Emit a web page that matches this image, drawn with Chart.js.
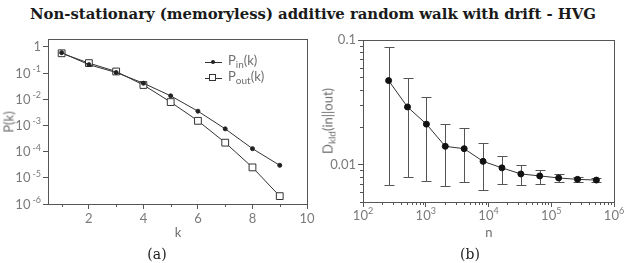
<!DOCTYPE html>
<html>
<head>
<meta charset="utf-8">
<script src="https://cdn.jsdelivr.net/npm/chart.js@4/dist/chart.umd.min.js"></script>
<style>
  body { margin: 0; background: #fff; width: 627px; height: 263px; position: relative; overflow: hidden; font-family: Lato, sans-serif; color: #6e6e6e; }
  canvas { position: absolute; top: 0; }
  #left { left: 0; }
  #right { left: 320px; }
  .t { position: absolute; white-space: nowrap; line-height: 1; }
  #title { top: 6px; left: 313px; font: bold 14px "DejaVu Serif", serif; color: #1a1a1a; transform-origin: 0 0; }
  .cap { font: 14px "DejaVu Serif", serif; color: #222; top: 246px; transform: translateX(-50%); }
  .ax { font-size: 13px; }
  .rot { transform: translate(-50%, -50%) rotate(-90deg); }
  .leg { font-size: 13px; }
  .leg sub { font-size: 10px; vertical-align: -3px; }
  .ax sub { font-size: 10px; vertical-align: -3px; }
  .ll { position: absolute; height: 1px; width: 17px; background: #333; }
  .dot { position: absolute; width: 4px; height: 4px; border-radius: 50%; background: #222; }
  .sq { position: absolute; width: 5px; height: 5px; border: 1px solid #333; background: #fff; }
</style>
</head>
<body>
<div id="title" class="t">Non-stationary (memoryless) additive random walk with drift - HVG</div>

<canvas id="left" width="320" height="263"></canvas>
<canvas id="right" width="307" height="263"></canvas>

<div class="t ax rot" style="left:9px;top:122px;">P(k)</div>
<div class="t ax" style="left:178px;top:226px;transform:translateX(-50%);">k</div>
<div class="t ax rot" style="left:329px;top:121px;">D<sub>kld</sub>(in||out)</div>
<div class="t ax" style="left:489px;top:226px;transform:translateX(-50%);">n</div>
<div class="t cap" style="left:157px;">(a)</div>
<div class="t cap" style="left:470px;">(b)</div>

<!-- legend -->
<div class="ll" style="left:205px;top:62px;"></div>
<div class="dot" style="left:211px;top:60px;"></div>
<div class="t leg" style="left:228px;top:54px;">P<sub>in</sub>(k)</div>
<div class="ll" style="left:205px;top:78px;"></div>
<div class="sq" style="left:209px;top:74px;"></div>
<div class="t leg" style="left:228px;top:70px;">P<sub>out</sub>(k)</div>

<script>
// ── Data ─────────────────────────────────────────────────────
const kVals = [1, 2, 3, 4, 5, 6, 7, 8, 9];
const pIn  = [0.6, 0.21, 0.105, 0.041, 0.0135, 0.0035, 7.4e-4, 1.3e-4, 3e-5];
const pOut = [0.57, 0.24, 0.115, 0.035, 0.0078, 0.0015, 2.2e-4, 2.5e-5, 2e-6];
const kTicks = [2, 4, 6, 8, 10];
const pTicks = [1e-6, 1e-5, 1e-4, 1e-3, 1e-2, 1e-1, 1];
const pTickExp = ['-6', '-5', '-4', '-3', '-2', '-1', null];   // null -> plain "1"

const nVals = [256, 512, 1024, 2048, 4096, 8192, 16384, 32768, 65536, 131072, 262144, 524288];
const dKld  = [0.0472, 0.029, 0.0211, 0.0140, 0.0134, 0.0106, 0.0094, 0.0084, 0.0081, 0.0078, 0.0076, 0.0075];
const dHigh = [0.0883, 0.0499, 0.0347, 0.0213, 0.0195, 0.0150, 0.0117, 0.0100, 0.0091, 0.0084, 0.0080, 0.0078];
const dLow  = [0.0069, 0.0080, 0.0074, 0.0067, 0.0072, 0.0062, 0.0070, 0.0068, 0.0070, 0.0073, 0.0072, 0.0073];
const nTicks = [1e2, 1e3, 1e4, 1e5, 1e6];
const nTickExp = ['2', '3', '4', '5', '6'];
const dTicks = [0.01, 0.1];
const dTickLabels = ['0.01', '0.1'];

// ── Shared bits ──────────────────────────────────────────────
const AX = '#555';
const LBL = '#7a7a7a';
const tickFont = { family: 'Lato', size: 13 };

function minors(from, to) {
  const out = [];
  for (let d = from; d < to; d *= 10)
    for (let m = 2; m <= 9; m++) out.push(m * d);
  return out;
}

function fixBox(w, h) {
  return function (scale) {
    if (w != null) scale.width = w;
    if (h != null) scale.height = h;
    scale.paddingLeft = scale.paddingRight = 0;
    scale.paddingTop = scale.paddingBottom = 0;
  };
}

// frame round the plot + short minor ticks + "10^x" labels
const frame = {
  id: 'frame',
  afterDraw(chart, args, opts) {
    const { ctx, chartArea: a, scales } = chart;
    ctx.save();
    ctx.strokeStyle = AX;
    ctx.lineWidth = 1;
    ctx.strokeRect(Math.round(a.left) + 0.5, Math.round(a.top) + 0.5,
      Math.round(a.right - a.left), Math.round(a.bottom - a.top));
    ctx.beginPath();
    (opts.minorX || []).forEach(v => {
      if (v < scales.x.min || v > scales.x.max) return;
      const x = Math.round(scales.x.getPixelForValue(v)) + 0.5;
      ctx.moveTo(x, a.bottom); ctx.lineTo(x, a.bottom + 3);
    });
    (opts.minorY || []).forEach(v => {
      if (v < scales.y.min || v > scales.y.max) return;
      const y = Math.round(scales.y.getPixelForValue(v)) + 0.5;
      ctx.moveTo(a.left - 3, y); ctx.lineTo(a.left, y);
    });
    ctx.stroke();

    // power labels
    const base = '13px Lato', sup = '9px Lato';
    ctx.fillStyle = LBL;
    ctx.textBaseline = 'alphabetic';
    ctx.textAlign = 'left';
    if (opts.powY) {
      opts.powY.vals.forEach((v, i) => {
        const y = scales.y.getPixelForValue(v);
        const e = opts.powY.exps[i];
        const right = a.left - 7;
        if (e == null) {
          ctx.font = base;
          ctx.fillText('1', right - ctx.measureText('1').width, y + 4.5);
          return;
        }
        ctx.font = sup;
        const ew = ctx.measureText(e).width;
        ctx.font = base;
        const bw = ctx.measureText('10').width;
        ctx.fillText('10', right - ew - 2 - bw, y + 4.5);
        ctx.font = sup;
        ctx.fillText(e, right - ew, y - 1);
      });
    }
    if (opts.powX) {
      opts.powX.vals.forEach((v, i) => {
        const x = scales.x.getPixelForValue(v);
        const e = opts.powX.exps[i];
        ctx.font = sup;
        const ew = ctx.measureText(e).width;
        ctx.font = base;
        const bw = ctx.measureText('10').width;
        const x0 = x - (bw + ew) / 2;
        ctx.fillText('10', x0, a.bottom + 18);
        ctx.font = sup;
        ctx.fillText(e, x0 + bw, a.bottom + 12);
      });
    }
    ctx.restore();
  }
};

// error bars from dLow / dHigh
const errBars = {
  id: 'errBars',
  beforeDatasetsDraw(chart, args, opts) {
    if (!opts.low) return;
    const { ctx, scales } = chart;
    ctx.save();
    ctx.strokeStyle = '#555';
    ctx.lineWidth = 1;
    ctx.beginPath();
    opts.xs.forEach((v, i) => {
      const x = Math.round(scales.x.getPixelForValue(v)) + 0.5;
      const y1 = Math.round(scales.y.getPixelForValue(opts.high[i])) + 0.5;
      const y2 = Math.round(scales.y.getPixelForValue(opts.low[i])) + 0.5;
      ctx.moveTo(x, y1); ctx.lineTo(x, y2);
      ctx.moveTo(x - 5, y1); ctx.lineTo(x + 5, y1);
      ctx.moveTo(x - 5, y2); ctx.lineTo(x + 5, y2);
    });
    ctx.stroke();
    ctx.restore();
  }
};

Chart.register(frame, errBars);

// ── Panel (a) ────────────────────────────────────────────────
new Chart(document.getElementById('left'), {
  type: 'scatter',
  data: {
    datasets: [{
      data: kVals.map((k, i) => ({ x: k, y: pIn[i] })),
      showLine: true,
      borderColor: '#333',
      borderWidth: 1,
      pointStyle: 'circle',
      pointRadius: 2,
      pointBackgroundColor: '#222',
      pointBorderColor: '#222'
    }, {
      data: kVals.map((k, i) => ({ x: k, y: pOut[i] })),
      showLine: true,
      borderColor: '#333',
      borderWidth: 1,
      pointStyle: 'rect',
      pointRadius: 4.8,
      pointBackgroundColor: '#fff',
      pointBorderColor: '#333',
      pointBorderWidth: 1
    }]
  },
  options: {
    responsive: false,
    animation: false,
    devicePixelRatio: 1,
    layout: { padding: { left: 8, right: 13, top: 39, bottom: 39 } },
    plugins: {
      legend: { display: false },
      tooltip: { enabled: false },
      frame: { minorX: [1, 3, 5, 7, 9], powY: { vals: pTicks, exps: pTickExp } }
    },
    scales: {
      x: {
        type: 'linear',
        min: 0.5, max: 10,
        afterBuildTicks: s => { s.ticks = kTicks.map(v => ({ value: v })); },
        afterFit: fixBox(null, 20),
        grid: { drawOnChartArea: false, tickLength: 5, color: AX },
        border: { color: AX },
        ticks: { color: LBL, font: tickFont, padding: 2, autoSkip: false, maxRotation: 0, callback: v => String(v) }
      },
      y: {
        type: 'logarithmic',
        min: 1e-6, max: 2,
        afterBuildTicks: s => { s.ticks = pTicks.map(v => ({ value: v })); },
        afterFit: fixBox(40, null),
        grid: { drawOnChartArea: false, tickLength: 5, color: AX },
        border: { color: AX },
        ticks: { autoSkip: false, callback: () => '' }
      }
    }
  }
});

// ── Panel (b) ────────────────────────────────────────────────
new Chart(document.getElementById('right'), {
  type: 'scatter',
  data: {
    datasets: [{
      data: nVals.map((n, i) => ({ x: n, y: dKld[i] })),
      showLine: true,
      borderColor: '#333',
      borderWidth: 1,
      pointStyle: 'circle',
      pointRadius: 3,
      pointBackgroundColor: '#111',
      pointBorderColor: '#111'
    }]
  },
  options: {
    responsive: false,
    animation: false,
    devicePixelRatio: 1,
    layout: { padding: { left: 5, right: 13, top: 40, bottom: 41 } },
    plugins: {
      legend: { display: false },
      tooltip: { enabled: false },
      frame: {
        minorX: minors(1e2, 1e6), minorY: minors(1e-3, 1e-1),
        powX: { vals: nTicks, exps: nTickExp }
      },
      errBars: { xs: nVals, low: dLow, high: dHigh }
    },
    scales: {
      x: {
        type: 'logarithmic',
        min: 1e2, max: 1e6,
        afterBuildTicks: s => { s.ticks = nTicks.map(v => ({ value: v })); },
        afterFit: fixBox(null, 20),
        grid: { drawOnChartArea: false, tickLength: 5, color: AX },
        border: { color: AX },
        ticks: { autoSkip: false, maxRotation: 0, callback: () => '' }
      },
      y: {
        type: 'logarithmic',
        min: 0.005, max: 0.1,
        afterBuildTicks: s => { s.ticks = dTicks.map(v => ({ value: v })); },
        afterFit: fixBox(38, null),
        grid: { drawOnChartArea: false, tickLength: 5, color: AX },
        border: { color: AX },
        ticks: { color: LBL, font: tickFont, padding: 2, autoSkip: false, callback: (v, i) => dTickLabels[i] }
      }
    }
  }
});

// ── Title width to match ─────────────────────────────────────
const title = document.getElementById('title');
const tw = title.getBoundingClientRect().width;
const sx = 566 / tw;
title.style.transform = `scaleX(${sx})`;
title.style.left = (313 - 566 / 2) + 'px';
</script>
</body>
</html>
